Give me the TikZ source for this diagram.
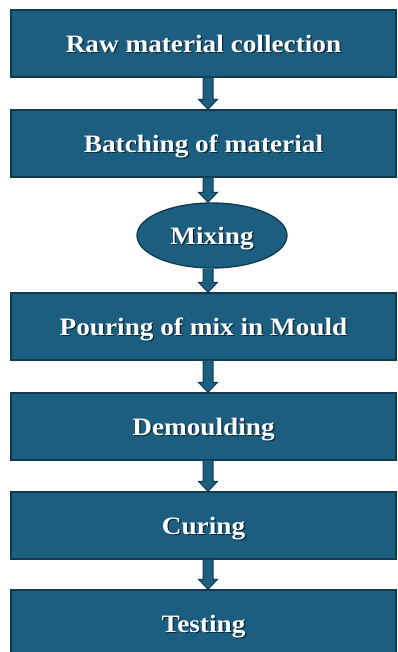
\documentclass[tikz,border=0pt]{standalone}
\usepackage{fontspec}
\setmainfont{Liberation Serif}[FakeStretch=1.09]
\usetikzlibrary{calc,shapes.geometric}
\definecolor{stageblue}{RGB}{27,94,128}
\definecolor{stageedge}{RGB}{16,58,80}
\definecolor{textshade}{RGB}{12,40,56}
% white label with a dark drop shadow
\newcommand\shadelabel[1]{\leavevmode\rlap{\hspace{1.3pt}\raisebox{-1.3pt}{\textcolor{textshade}{#1}}}#1}

\begin{document}
\begin{tikzpicture}[x=1pt,y=1pt,
  stage/.style={draw=stageedge,line width=1.3pt,fill=stageblue,text=white,
    minimum width=385,minimum height=67,inner sep=0pt,text height=21pt,text depth=3pt,
    font=\fontsize{25}{30}\selectfont\bfseries},
  oval/.style={stage,ellipse,minimum width=150,minimum height=65},
  flowarrow/.style={draw=stageedge,line width=1pt,fill=stageblue,line join=miter}]
\useasboundingbox (0,0) rectangle (397,-652);
\coordinate (axis) at (208,0);
\node[stage] (raw) at (203.5,-43.5) {\shadelabel{Raw material collection}};
\node[stage] (batch) at (203.5,-143.5) {\shadelabel{Batching of material}};
\node[oval] (mix) at (212,-235.5) {\shadelabel{Mixing}};
\node[stage] (pour) at (203.5,-326.5) {\shadelabel{Pouring of mix in Mould}};
\node[stage] (demould) at (203.5,-426.5) {\shadelabel{Demoulding}};
\node[stage] (cure) at (203.5,-525.5) {\shadelabel{Curing}};
\node[stage] (test) at (203.5,-623.5) {\shadelabel{Testing}};
\foreach \a/\b in {raw/batch,batch/mix,mix/pour,pour/demould,demould/cure,cure/test}
\draw[flowarrow] ($(\a.south -| axis)+(-5,0)$) -- ($(\b.north -| axis)+(-5,10)$) -- ++(-4.5,0)
  -- (\b.north -| axis) -- ++(9.5,10) -- ++(-4.5,0) -- ($(\a.south -| axis)+(5,0)$);
\end{tikzpicture}
\end{document}
